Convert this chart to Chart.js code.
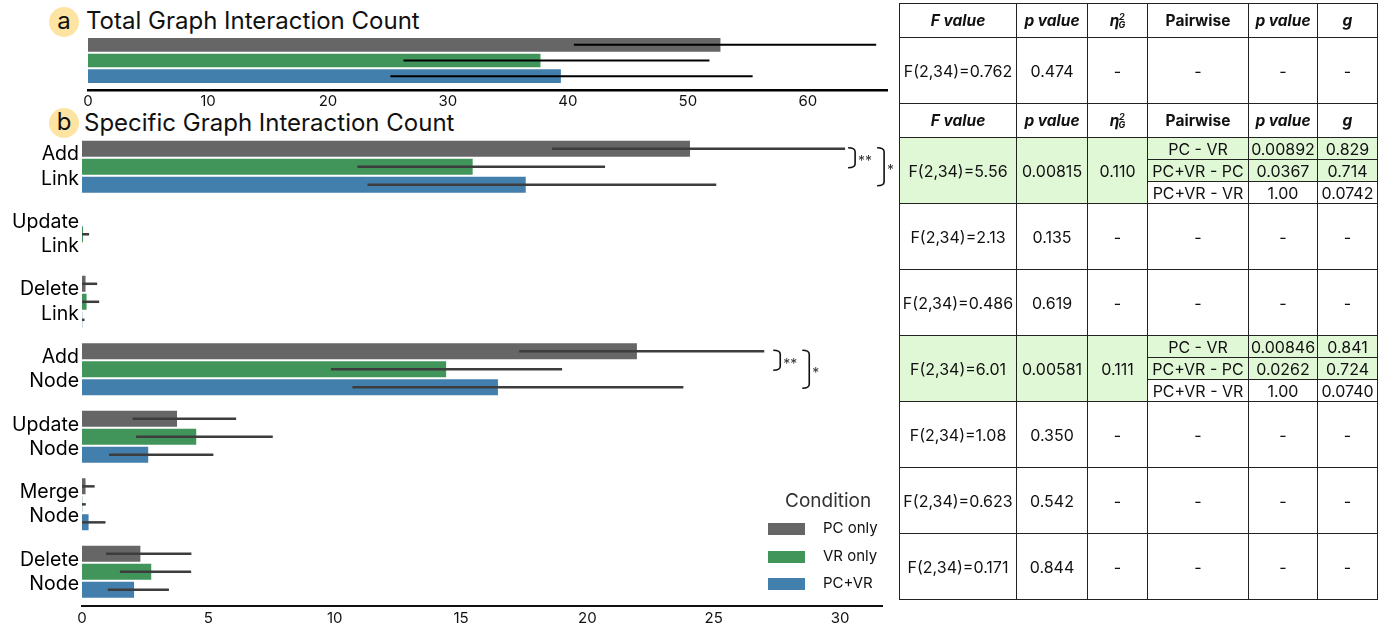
<!DOCTYPE html>
<html>
<head>
<meta charset="utf-8">
<script src="https://cdn.jsdelivr.net/npm/chart.js@4"></script>
<style>
  body { margin: 0; width: 1383px; height: 628px; background: #fff; position: relative; overflow: hidden; font-family: Inter, "Noto Sans", sans-serif; color: #111; }
  .badge { position: absolute; width: 30px; height: 30px; border-radius: 50%; background: #fde4a2; font-size: 24px; line-height: 28px; text-align: center; }
  .title { position: absolute; font-size: 24px; line-height: 30px; white-space: nowrap; }
  .wrap { position: absolute; }
  #legend { position: absolute; left: 760px; top: 486px; width: 130px; }
  #legend .lt { position: absolute; left: 25px; top: 0; font-size: 19px; line-height: 30px; color: #333; }
  #legend .sw { position: absolute; left: 8px; width: 37px; height: 12px; }
  #legend .lb { position: absolute; left: 63px; font-size: 15px; line-height: 20px; }
  #stats { position: absolute; left: 899px; top: 3px; width: 478px; border-collapse: collapse; table-layout: fixed; font-size: 16px; }
  #stats td, #stats th { border: 1.2px solid #222; padding: 0; text-align: center; vertical-align: middle; white-space: nowrap; }
  #stats th { font-weight: bold; height: 33px; font-size: 15.5px; }
  #stats td.g { background: #e1f8d7; }
  .eta { display: inline-flex; align-items: center; font-style: italic; font-weight: bold; }
  .eta .st { display: inline-flex; flex-direction: column; font-size: 9px; line-height: 8px; margin-left: -1px; }
</style>
</head>
<body>
<div class="badge" style="left:49px;top:7px">a</div>
<div class="title" style="left:86px;top:6px">Total Graph Interaction Count</div>
<div class="badge" style="left:49px;top:108px">b</div>
<div class="title" style="left:84px;top:108px">Specific Graph Interaction Count</div>

<div class="wrap" style="left:78px;top:31px;width:819px;height:81px"><canvas id="totalChart"></canvas></div>
<div class="wrap" style="left:0px;top:103px;width:902px;height:530px"><canvas id="specificChart"></canvas></div>
<div id="legend"></div>
<table id="stats">
  <colgroup><col style="width:117px"><col style="width:71px"><col style="width:60px"><col style="width:101px"><col style="width:69px"><col style="width:60px"></colgroup>
  <tbody id="statsBody"></tbody>
</table>

<script>
// conditions
const conditions = ["PC only", "VR only", "PC+VR"];
const colors = ["#666666", "#41955a", "#437fad"];

// (a) total count: mean + CI per condition
const totalMean = [52.8, 37.8, 39.5];
const totalLo = [40.5, 26.3, 25.2];
const totalHi = [65.7, 51.8, 55.4];

// (b) per interaction type
const categories = [
  ["Add", "Link"],
  ["Update", "Link"],
  ["Delete", "Link"],
  ["Add", "Node"],
  ["Update", "Node"],
  ["Merge", "Node"],
  ["Delete", "Node"],
];
const pcMean = [24.1, 0, 0.18, 22.0, 3.8, 0.18, 2.35];
const pcLo = [18.6, 0, 0, 17.3, 2.0, 0, 0.95];
const pcHi = [30.2, 0, 0.6, 27.0, 6.1, 0.5, 4.33];
const vrMean = [15.5, 0.08, 0.22, 14.45, 4.56, 0.03, 2.78];
const vrLo = [10.9, 0, 0, 9.85, 2.14, 0, 1.5];
const vrHi = [20.7, 0.28, 0.68, 19.0, 7.55, 0.15, 4.32];
const bothMean = [17.6, 0, 0.03, 16.5, 2.66, 0.3, 2.1];
const bothLo = [11.3, 0, 0, 10.7, 1.07, 0, 1.02];
const bothHi = [25.1, 0, 0.1, 23.8, 5.2, 0.93, 3.44];

// ticks
const totalTicks = [0, 10, 20, 30, 40, 50, 60];
const specificTicks = [0, 5, 10, 15, 20, 25, 30];

// stats table
const totalStat = ["F(2,34)=0.762", "0.474"];
const fValues = ["5.56", "2.13", "0.486", "6.01", "1.08", "0.623", "0.171"];
const pValues = ["0.00815", "0.135", "0.619", "0.00581", "0.350", "0.542", "0.844"];
const etaValues = ["0.110", "-", "-", "0.111", "-", "-", "-"];
const pairNames = ["PC - VR", "PC+VR - PC", "PC+VR - VR"];
const pairP = { 0: ["0.00892", "0.0367", "1.00"], 3: ["0.00846", "0.0262", "1.00"] };
const pairG = { 0: ["0.829", "0.714", "0.0742"], 3: ["0.841", "0.724", "0.0740"] };

// significance brackets (category index, inner label, outer label)
const sigGroups = [
  { index: 0, inner: "**", outer: "*", gap: 3 },
  { index: 3, inner: "**", outer: "*", gap: 9 },
];

Chart.defaults.font.family = "Inter, 'Noto Sans', sans-serif";
Chart.defaults.color = "#111";

const errorBars = {
  id: "errorBars",
  afterDatasetsDraw(chart, args, opts) {
    const ctx = chart.ctx;
    const xs = chart.scales.x;
    ctx.save();
    ctx.strokeStyle = opts.color;
    ctx.lineWidth = opts.width;
    chart.data.datasets.forEach((ds, i) => {
      chart.getDatasetMeta(i).data.forEach((bar, j) => {
        const lo = ds.errLo[j], hi = ds.errHi[j];
        if (hi <= lo) return;
        ctx.beginPath();
        ctx.moveTo(xs.getPixelForValue(lo), bar.y);
        ctx.lineTo(xs.getPixelForValue(hi), bar.y);
        ctx.stroke();
      });
    });
    ctx.restore();
  },
};

function drawBracket(ctx, x0, y0, y1, label) {
  const w = 7, r = 4;
  ctx.beginPath();
  ctx.moveTo(x0, y0);
  ctx.quadraticCurveTo(x0 + w, y0, x0 + w, y0 + r);
  ctx.lineTo(x0 + w, y1 - r);
  ctx.quadraticCurveTo(x0 + w, y1, x0, y1);
  ctx.stroke();
  ctx.fillText(label, x0 + w + 3, (y0 + y1) / 2 + 4);
}

const brackets = {
  id: "brackets",
  afterDatasetsDraw(chart) {
    const ctx = chart.ctx;
    const xs = chart.scales.x;
    ctx.save();
    ctx.strokeStyle = "#111";
    ctx.fillStyle = "#333";
    ctx.lineWidth = 1.6;
    ctx.font = "14px Inter, sans-serif";
    ctx.textBaseline = "middle";
    sigGroups.forEach((g) => {
      const ys = [0, 1, 2].map((i) => chart.getDatasetMeta(i).data[g.index].y);
      const top = Math.max(pcHi[g.index], vrHi[g.index], bothHi[g.index]);
      const x0 = xs.getPixelForValue(top) + g.gap;
      drawBracket(ctx, x0, ys[0] - 1, ys[1] + 1, g.inner);
      drawBracket(ctx, x0 + 29, ys[0] - 1, ys[2] + 1, g.outer);
    });
    ctx.restore();
  },
};

function barDataset(label, data, lo, hi, color) {
  return {
    label: label,
    data: data,
    errLo: lo,
    errHi: hi,
    backgroundColor: color,
    borderColor: "rgba(255,255,255,0.55)",
    borderWidth: 1,
    categoryPercentage: 0.8,
    barPercentage: 1,
  };
}

// Total Graph Interaction Count
new Chart(document.getElementById("totalChart"), {
  type: "bar",
  data: {
    labels: ["Total"],
    datasets: [
      barDataset(conditions[0], [totalMean[0]], [totalLo[0]], [totalHi[0]], colors[0]),
      barDataset(conditions[1], [totalMean[1]], [totalLo[1]], [totalHi[1]], colors[1]),
      barDataset(conditions[2], [totalMean[2]], [totalLo[2]], [totalHi[2]], colors[2]),
    ],
  },
  options: {
    indexAxis: "y",
    responsive: true,
    maintainAspectRatio: false,
    animation: false,
    layout: { padding: { left: 10, right: 10, top: 0, bottom: 0 } },
    scales: {
      y: { display: false },
      x: {
        min: 0,
        max: 66.6,
        afterBuildTicks: (s) => { s.ticks = totalTicks.map((v) => ({ value: v })); },
        afterFit: (s) => { s.height = 22; },
        ticks: { font: { size: 15 }, padding: 2, color: "#111" },
        grid: { display: false, drawTicks: false },
        border: { display: true, color: "#000", width: 2.5 },
      },
    },
    plugins: {
      legend: { display: false },
      tooltip: { enabled: false },
      errorBars: { color: "#000", width: 2 },
    },
  },
  plugins: [errorBars],
});

// Specific Graph Interaction Count
new Chart(document.getElementById("specificChart"), {
  type: "bar",
  data: {
    labels: categories,
    datasets: [
      barDataset(conditions[0], pcMean, pcLo, pcHi, colors[0]),
      barDataset(conditions[1], vrMean, vrLo, vrHi, colors[1]),
      barDataset(conditions[2], bothMean, bothLo, bothHi, colors[2]),
    ],
  },
  options: {
    indexAxis: "y",
    responsive: true,
    maintainAspectRatio: false,
    animation: false,
    layout: { padding: { left: 0, right: 20, top: 30, bottom: 0 } },
    scales: {
      y: {
        afterFit: (s) => { s.width = 82; },
        ticks: { font: { size: 19.5, lineHeight: 1.25 }, padding: 3, color: "#000" },
        grid: { display: false, drawTicks: false },
        border: { display: false },
      },
      x: {
        min: 0,
        max: 31.66,
        afterBuildTicks: (s) => { s.ticks = specificTicks.map((v) => ({ value: v })); },
        afterFit: (s) => { s.height = 23; },
        ticks: { font: { size: 15 }, padding: 4, color: "#111" },
        grid: { display: false, drawTicks: false },
        border: { display: true, color: "#111", width: 2 },
      },
    },
    plugins: {
      legend: { display: false },
      tooltip: { enabled: false },
      errorBars: { color: "#3d3d3d", width: 2.5 },
    },
  },
  plugins: [errorBars, brackets],
});

// legend
const legend = document.getElementById("legend");
legend.innerHTML = '<div class="lt">Condition</div>' +
  conditions.map((c, i) =>
    `<div class="sw" style="top:${37 + i * 27.5}px;background:${colors[i]}"></div>` +
    `<div class="lb" style="top:${32 + i * 27.5}px">${c}</div>`
  ).join("");

// stats table
const eta = '<span class="eta">η<span class="st"><span>2</span><span>G</span></span></span>';
const headRow = `<tr><th><i>F value</i></th><th><i>p value</i></th><th>${eta}</th><th>Pairwise</th><th><i>p value</i></th><th><i>g</i></th></tr>`;
let rows = headRow;
rows += `<tr style="height:66px"><td>${totalStat[0]}</td><td>${totalStat[1]}</td><td>-</td><td>-</td><td>-</td><td>-</td></tr>`;
rows += headRow;
fValues.forEach((f, i) => {
  if (pairP[i]) {
    pairNames.forEach((name, k) => {
      const cls = k < 2 ? ' class="g"' : "";
      let lead = "";
      if (k === 0) {
        lead = `<td rowspan="3" class="g">F(2,34)=${f}</td><td rowspan="3" class="g">${pValues[i]}</td><td rowspan="3" class="g">${etaValues[i]}</td>`;
      }
      rows += `<tr style="height:22px">${lead}<td${cls}>${name}</td><td${cls}>${pairP[i][k]}</td><td${cls}>${pairG[i][k]}</td></tr>`;
    });
  } else {
    rows += `<tr style="height:66px"><td>F(2,34)=${f}</td><td>${pValues[i]}</td><td>${etaValues[i]}</td><td>-</td><td>-</td><td>-</td></tr>`;
  }
});
document.getElementById("statsBody").innerHTML = rows;
</script>
</body>
</html>
